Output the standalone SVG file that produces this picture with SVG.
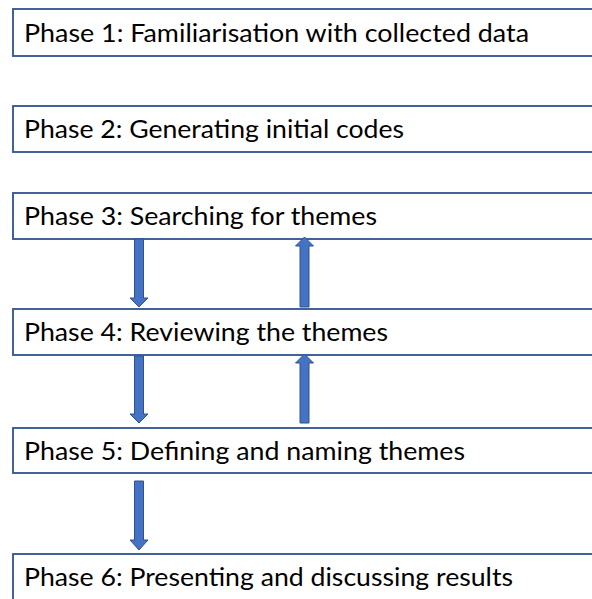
<svg xmlns="http://www.w3.org/2000/svg" width="592" height="599" viewBox="0 0 592 599">
  <style>
    .box { fill: #ffffff; stroke: #2F528F; stroke-width: 1.8; }
    .label { font-family: "Lato", "Liberation Sans", sans-serif; font-size: 25.5px; fill: #000000; }
    .arrow { fill: #4472C4; stroke: #2F528F; stroke-width: 1; }
  </style>
  <rect width="592" height="599" fill="#ffffff"/>

  <g id="phase1">
    <rect class="box" x="13" y="9" width="600" height="47"/>
    <text class="label" x="24" y="41.5" textLength="505" lengthAdjust="spacingAndGlyphs">Phase 1: Familiarisation with collected data</text>
  </g>
  <g id="phase2">
    <rect class="box" x="13" y="106" width="600" height="46"/>
    <text class="label" x="24" y="138" textLength="380" lengthAdjust="spacingAndGlyphs">Phase 2: Generating initial codes</text>
  </g>
  <g id="phase3">
    <rect class="box" x="13" y="193" width="600" height="46"/>
    <text class="label" x="24" y="225" textLength="353" lengthAdjust="spacingAndGlyphs">Phase 3: Searching for themes</text>
  </g>
  <g id="phase4">
    <rect class="box" x="13" y="309" width="600" height="46"/>
    <text class="label" x="24" y="341" textLength="364" lengthAdjust="spacingAndGlyphs">Phase 4: Reviewing the themes</text>
  </g>
  <g id="phase5">
    <rect class="box" x="13" y="428" width="600" height="45"/>
    <text class="label" x="24" y="459.5" textLength="441" lengthAdjust="spacingAndGlyphs">Phase 5: Defining and naming themes</text>
  </g>
  <g id="phase6">
    <rect class="box" x="13" y="554" width="600" height="60"/>
    <text class="label" x="24" y="586" textLength="489" lengthAdjust="spacingAndGlyphs">Phase 6: Presenting and discussing results</text>
  </g>

  <g id="connectors">
    <!-- phase 3 -> phase 4 -->
    <path class="arrow" d="M 134.5 239 H 143.5 V 298 H 148 L 139 307 L 130 298 H 134.5 Z"/>
    <!-- phase 4 -> phase 3 -->
    <path class="arrow" d="M 300 307 H 309 V 246 H 313.5 L 304.5 237 L 295.5 246 H 300 Z"/>
    <!-- phase 4 -> phase 5 -->
    <path class="arrow" d="M 134.5 356 H 143.5 V 414 H 148 L 139 423 L 130 414 H 134.5 Z"/>
    <!-- phase 5 -> phase 4 -->
    <path class="arrow" d="M 300 423 H 309 V 363 H 313.5 L 304.5 354 L 295.5 363 H 300 Z"/>
    <!-- phase 5 -> phase 6 -->
    <path class="arrow" d="M 134.5 481 H 143.5 V 540 H 148 L 139 550 L 130 540 H 134.5 Z"/>
  </g>
</svg>
